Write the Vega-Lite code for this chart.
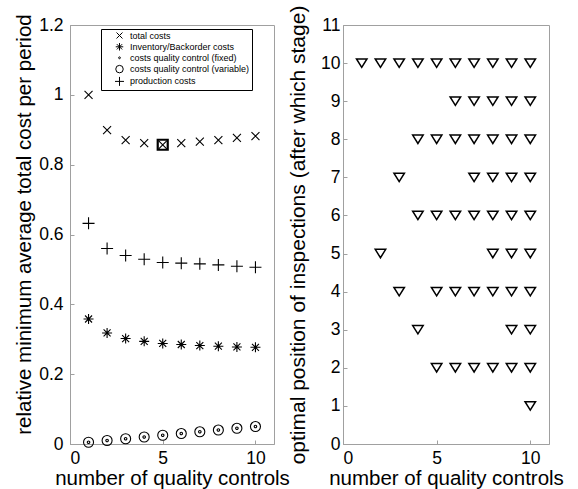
{
  "$schema": "https://vega.github.io/schema/vega-lite/v6.json",
  "background": "white",
  "padding": {"left": 14, "top": 4, "right": 5, "bottom": 2},
  "spacing": 69,
  "bounds": "flush",
  "resolve": {"scale": {"shape": "independent"}, "legend": {"shape": "independent"}},
  "config": {
    "font": "Liberation Sans",
    "view": {"stroke": "#a0a0a0", "strokeWidth": 1},
    "axis": {
      "domainColor": "#a0a0a0", "tickColor": "#a0a0a0", "tickSize": -4, "labelPadding": 9,
      "labelFontSize": 17.5, "labelColor": "black", "labelFont": "Liberation Sans",
      "titleFontSize": 20, "titleFontWeight": "normal", "titleColor": "black", "titleFont": "Liberation Sans",
      "grid": false
    }
  },
  "datasets": {
    "costs": [
      {"x": 1, "v": 1.0, "s": "total costs"}, {"x": 2, "v": 0.899, "s": "total costs"}, {"x": 3, "v": 0.870, "s": "total costs"}, {"x": 4, "v": 0.862, "s": "total costs"}, {"x": 5, "v": 0.857, "s": "total costs"},
      {"x": 6, "v": 0.862, "s": "total costs"}, {"x": 7, "v": 0.866, "s": "total costs"}, {"x": 8, "v": 0.870, "s": "total costs"}, {"x": 9, "v": 0.877, "s": "total costs"}, {"x": 10, "v": 0.882, "s": "total costs"},
      {"x": 1, "v": 0.358, "s": "Inventory/Backorder costs"}, {"x": 2, "v": 0.318, "s": "Inventory/Backorder costs"}, {"x": 3, "v": 0.302, "s": "Inventory/Backorder costs"}, {"x": 4, "v": 0.294, "s": "Inventory/Backorder costs"}, {"x": 5, "v": 0.288, "s": "Inventory/Backorder costs"},
      {"x": 6, "v": 0.285, "s": "Inventory/Backorder costs"}, {"x": 7, "v": 0.282, "s": "Inventory/Backorder costs"}, {"x": 8, "v": 0.280, "s": "Inventory/Backorder costs"}, {"x": 9, "v": 0.278, "s": "Inventory/Backorder costs"}, {"x": 10, "v": 0.277, "s": "Inventory/Backorder costs"},
      {"x": 1, "v": 0.005, "s": "costs quality control (fixed)"}, {"x": 2, "v": 0.010, "s": "costs quality control (fixed)"}, {"x": 3, "v": 0.015, "s": "costs quality control (fixed)"}, {"x": 4, "v": 0.020, "s": "costs quality control (fixed)"}, {"x": 5, "v": 0.025, "s": "costs quality control (fixed)"},
      {"x": 6, "v": 0.030, "s": "costs quality control (fixed)"}, {"x": 7, "v": 0.035, "s": "costs quality control (fixed)"}, {"x": 8, "v": 0.040, "s": "costs quality control (fixed)"}, {"x": 9, "v": 0.045, "s": "costs quality control (fixed)"}, {"x": 10, "v": 0.050, "s": "costs quality control (fixed)"},
      {"x": 1, "v": 0.005, "s": "costs quality control (variable)"}, {"x": 2, "v": 0.010, "s": "costs quality control (variable)"}, {"x": 3, "v": 0.015, "s": "costs quality control (variable)"}, {"x": 4, "v": 0.020, "s": "costs quality control (variable)"}, {"x": 5, "v": 0.025, "s": "costs quality control (variable)"},
      {"x": 6, "v": 0.030, "s": "costs quality control (variable)"}, {"x": 7, "v": 0.035, "s": "costs quality control (variable)"}, {"x": 8, "v": 0.040, "s": "costs quality control (variable)"}, {"x": 9, "v": 0.045, "s": "costs quality control (variable)"}, {"x": 10, "v": 0.050, "s": "costs quality control (variable)"},
      {"x": 1, "v": 0.632, "s": "production costs"}, {"x": 2, "v": 0.560, "s": "production costs"}, {"x": 3, "v": 0.540, "s": "production costs"}, {"x": 4, "v": 0.529, "s": "production costs"}, {"x": 5, "v": 0.520, "s": "production costs"},
      {"x": 6, "v": 0.518, "s": "production costs"}, {"x": 7, "v": 0.516, "s": "production costs"}, {"x": 8, "v": 0.513, "s": "production costs"}, {"x": 9, "v": 0.509, "s": "production costs"}, {"x": 10, "v": 0.506, "s": "production costs"}
    ],
    "best": [{"x": 5, "v": 0.857}],
    "pos": [
      {"n": 1, "p": 10},
      {"n": 2, "p": 10}, {"n": 2, "p": 5},
      {"n": 3, "p": 10}, {"n": 3, "p": 7}, {"n": 3, "p": 4},
      {"n": 4, "p": 10}, {"n": 4, "p": 8}, {"n": 4, "p": 6}, {"n": 4, "p": 3},
      {"n": 5, "p": 10}, {"n": 5, "p": 8}, {"n": 5, "p": 6}, {"n": 5, "p": 4}, {"n": 5, "p": 2},
      {"n": 6, "p": 10}, {"n": 6, "p": 9}, {"n": 6, "p": 8}, {"n": 6, "p": 6}, {"n": 6, "p": 4}, {"n": 6, "p": 2},
      {"n": 7, "p": 10}, {"n": 7, "p": 9}, {"n": 7, "p": 8}, {"n": 7, "p": 7}, {"n": 7, "p": 6}, {"n": 7, "p": 4}, {"n": 7, "p": 2},
      {"n": 8, "p": 10}, {"n": 8, "p": 9}, {"n": 8, "p": 8}, {"n": 8, "p": 7}, {"n": 8, "p": 6}, {"n": 8, "p": 5}, {"n": 8, "p": 4}, {"n": 8, "p": 2},
      {"n": 9, "p": 10}, {"n": 9, "p": 9}, {"n": 9, "p": 8}, {"n": 9, "p": 7}, {"n": 9, "p": 6}, {"n": 9, "p": 5}, {"n": 9, "p": 4}, {"n": 9, "p": 3}, {"n": 9, "p": 2},
      {"n": 10, "p": 10}, {"n": 10, "p": 9}, {"n": 10, "p": 8}, {"n": 10, "p": 7}, {"n": 10, "p": 6}, {"n": 10, "p": 5}, {"n": 10, "p": 4}, {"n": 10, "p": 3}, {"n": 10, "p": 2}, {"n": 10, "p": 1}
    ]
  },
  "hconcat": [
    {
      "width": 204,
      "height": 419,
      "layer": [
        {
          "data": {"name": "costs"},
          "mark": {"type": "point", "filled": false, "stroke": "black", "strokeWidth": 1.1, "opacity": 1, "size": 100},
          "encoding": {
            "x": {"field": "x", "type": "quantitative", "scale": {"domain": [0, 11], "nice": false}, "axis": {"values": [0, 5, 10], "title": "number of quality controls", "titleFontSize": 20.5, "titlePadding": 2}},
            "y": {"field": "v", "type": "quantitative", "scale": {"domain": [0, 1.2], "nice": false}, "axis": {"values": [0, 0.2, 0.4, 0.6, 0.8, 1, 1.2], "format": ".1~f", "title": "relative minimum average total cost per period", "titleFontSize": 20.5, "titleY": 199, "labelPadding": 11}},
            "shape": {
              "field": "s", "type": "nominal",
              "scale": {
                "domain": ["total costs", "Inventory/Backorder costs", "costs quality control (fixed)", "costs quality control (variable)", "production costs"],
                "range": ["M-0.8,-0.8L0.8,0.8M-0.8,0.8L0.8,-0.8", "M0,-1L0,1M-1,0L1,0M-0.7,-0.7L0.7,0.7M-0.7,0.7L0.7,-0.7", "M0.25,0A0.25,0.25,0,1,1,-0.25,0A0.25,0.25,0,1,1,0.25,0", "circle", "M-1.2,0L1.2,0M0,-1.2L0,1.2"]
              },
              "legend": {
                "title": null, "orient": "none", "legendX": 31, "legendY": 4,
                "strokeColor": "black", "fillColor": "white", "padding": 2,
                "labelFontSize": 9, "labelFont": "Liberation Sans", "labelColor": "black", "labelLimit": 300,
                "symbolSize": 56, "symbolStrokeColor": "black", "symbolStrokeWidth": 1, "symbolFillColor": "transparent",
                "symbolOffset": 12, "labelOffset": 6, "rowPadding": -0.7
              }
            }
          }
        },
        {
          "data": {"name": "best"},
          "mark": {"type": "point", "shape": "square", "filled": false, "stroke": "black", "strokeWidth": 2.2, "size": 100, "opacity": 1},
          "encoding": {
            "x": {"field": "x", "type": "quantitative"},
            "y": {"field": "v", "type": "quantitative"}
          }
        }
      ]
    },
    {
      "width": 206,
      "height": 419,
      "mark": {"type": "point", "shape": "M-1,-0.8L1,-0.8L0,0.8Z", "size": 110, "filled": false, "stroke": "black", "strokeWidth": 1.5, "opacity": 1},
      "data": {"name": "pos"},
      "encoding": {
        "x": {"field": "n", "type": "quantitative", "scale": {"domain": [0, 11], "nice": false}, "axis": {"values": [0, 5, 10], "title": "number of quality controls", "titleFontSize": 20.5, "titlePadding": 2}},
        "y": {"field": "p", "type": "quantitative", "scale": {"domain": [0, 11], "nice": false}, "axis": {"values": [0, 1, 2, 3, 4, 5, 6, 7, 8, 9, 10, 11], "format": "d", "title": "optimal position of inspections (after which stage)", "titleFontSize": 21, "labelPadding": 7, "titlePadding": 12}}
      }
    }
  ]
}
